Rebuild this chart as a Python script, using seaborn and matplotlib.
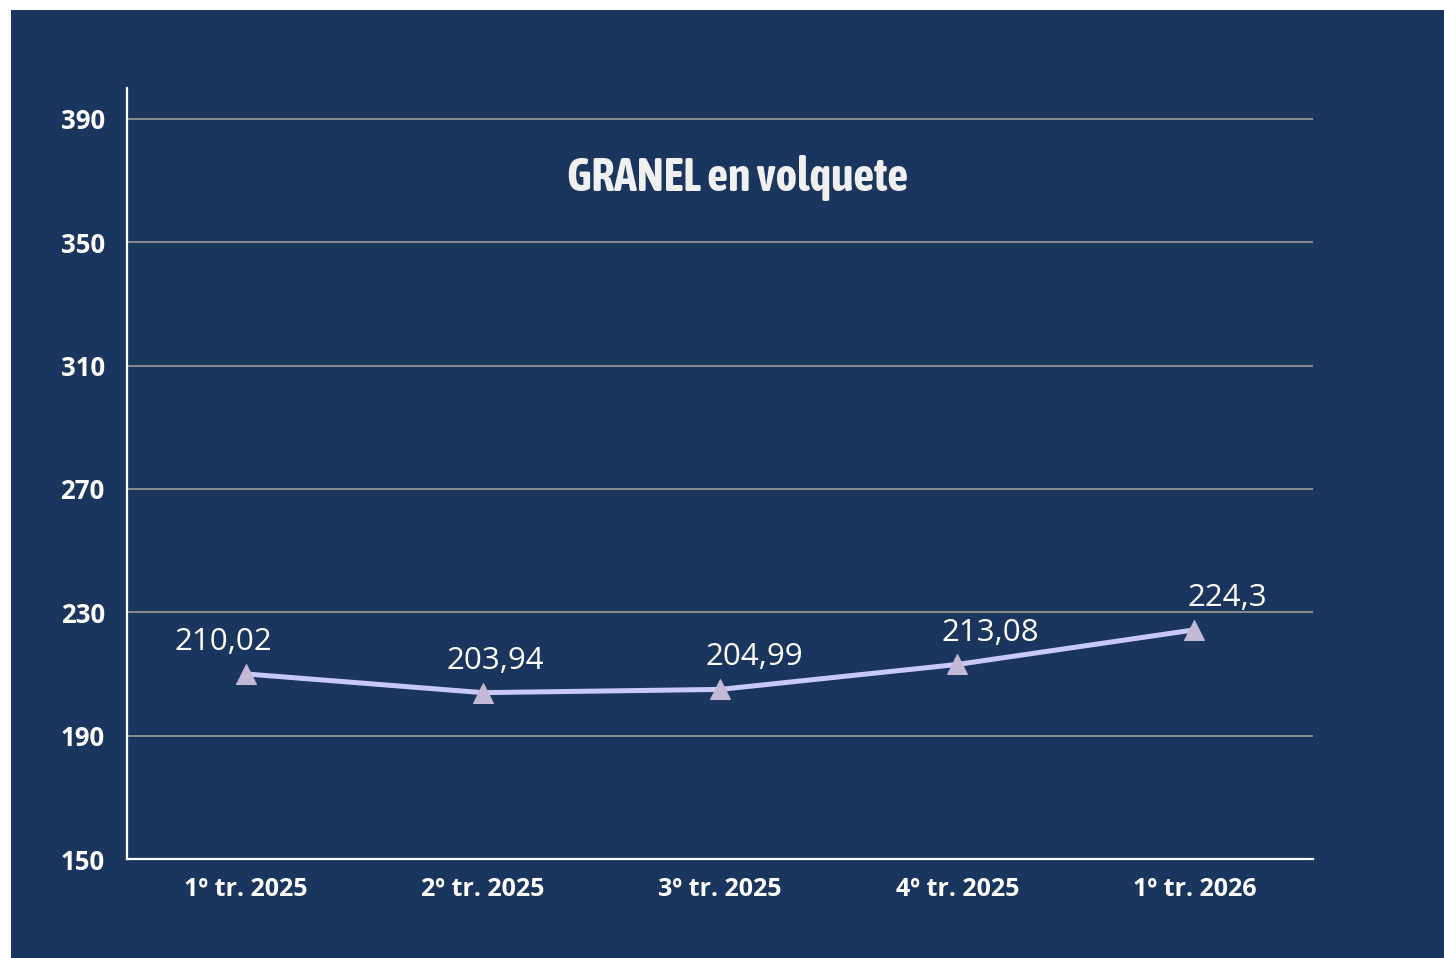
import pandas as pd
import matplotlib.pyplot as plt
import matplotlib.patheffects as pe
import seaborn as sns
import numpy as np
from matplotlib.patches import Rectangle
from matplotlib import font_manager

# Data
quarters = ['1º tr. 2025', '2º tr. 2025', '3º tr. 2025', '4º tr. 2025', '1º tr. 2026']
prices = [210.02, 203.94, 204.99, 213.08, 224.3]
value_labels = ['210,02', '203,94', '204,99', '213,08', '224,3']
y_ticks = [150, 190, 230, 270, 310, 350, 390]

df = pd.DataFrame({'Quarter': quarters, 'Price': prices})

navy = '#1a365e'
sns.set_style('white')
plt.rcParams['font.family'] = ['Open Sans', 'DejaVu Sans']


def weight_of(f):
    w = f.weight
    if isinstance(w, str):
        w = {'bold': 700, 'normal': 400, 'regular': 400}.get(w, 400)
    return w


# look for a condensed bold face (non-italic) for the title
fonts = font_manager.fontManager.ttflist
narrow = [f for f in fonts if ('Narrow' in f.name or 'Condensed' in f.name)
          and f.style == 'normal' and weight_of(f) >= 600]
narrow.sort(key=lambda f: abs(weight_of(f) - 700))
if narrow:
    title_font = font_manager.FontProperties(fname=narrow[0].fname, size=33)
else:
    title_font = font_manager.FontProperties(family='Open Sans', weight='bold', size=26)

fig = plt.figure(figsize=(14.44, 9.58), dpi=100)
fig.patch.set_facecolor('white')
# navy panel with a thin white margin on top / left
fig.patches.append(Rectangle((11 / 1444, 0), 1, 1 - 10 / 958, transform=fig.transFigure,
                             facecolor=navy, edgecolor='none', zorder=-5))

ax = fig.add_axes([127 / 1444, 1 - 859 / 958, (1313 - 127) / 1444, (859 - 88) / 958])
ax.set_zorder(2)
ax.patch.set_alpha(0)

sns.lineplot(data=df, x='Quarter', y='Price', ax=ax, color='#c9c9f7', linewidth=3.6,
             marker='^', markersize=14, markerfacecolor='#c3b8d6', markeredgecolor='#c3b8d6',
             zorder=3)

# value labels above each point
label_dx = [-16, 9, 25, 24, 24]
for i, (v, txt) in enumerate(zip(prices, value_labels)):
    ax.annotate(txt, (i, v), xytext=(label_dx[i], 23), textcoords='offset points',
                ha='center', va='center', fontsize=22.5, color='white')

ax.set_xlim(-0.5, 4.5)
ax.set_ylim(150, 400)
ax.set_yticks(y_ticks)
ax.set_yticklabels([str(t) for t in y_ticks], fontsize=18.5, fontweight='bold', color='white')
ax.set_xticks(range(len(quarters)))
ax.set_xticklabels(quarters, fontsize=18, fontweight='bold', color='white')
ax.set_xticks(np.arange(-0.5, 5, 1), minor=True)
ax.tick_params(axis='x', which='major', length=0, pad=13)
ax.tick_params(axis='x', which='minor', length=6, width=1.5, color='white', direction='out')
ax.tick_params(axis='y', length=7, width=1.5, color='white', direction='out', pad=9)
ax.set_xlabel('')
ax.set_ylabel('')

ax.grid(axis='y', color='#8c8c8c', linewidth=1.4)
ax.grid(axis='x', visible=False)
for s in ['top', 'right']:
    ax.spines[s].set_visible(False)
for s in ['left', 'bottom']:
    ax.spines[s].set_color('white')
    ax.spines[s].set_linewidth(1.6)

ax.text(0.515, 0.883, 'GRANEL en volquete', transform=ax.transAxes, ha='center',
        va='center', color='#f0f0f0', fontproperties=title_font)

fig.savefig('out.png', dpi=100, facecolor=fig.get_facecolor())
